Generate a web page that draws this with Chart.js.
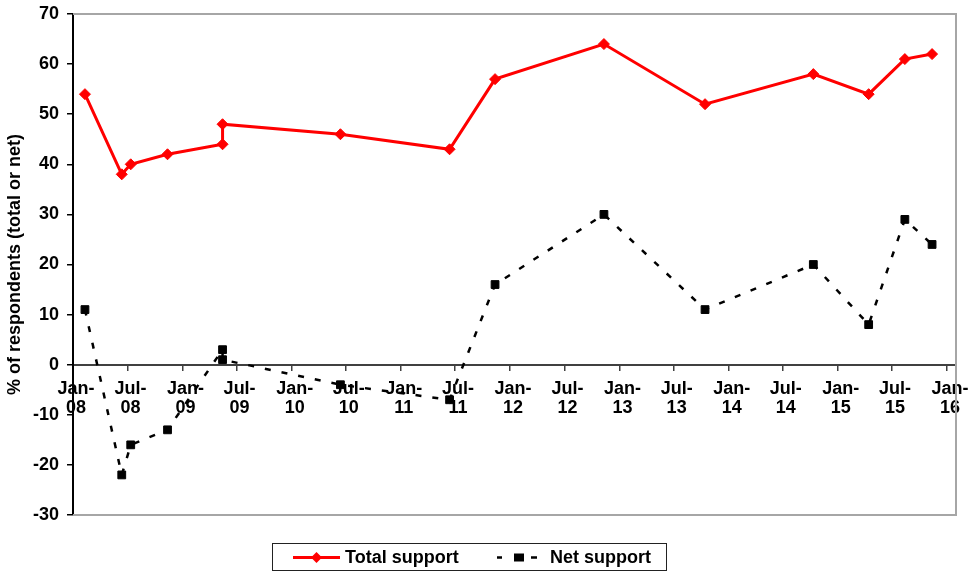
<!DOCTYPE html>
<html>
<head>
<meta charset="utf-8">
<script src="https://cdn.jsdelivr.net/npm/chart.js@4"></script>
<style>
  html, body { margin: 0; padding: 0; background: #ffffff; }
  #wrap { width: 977px; height: 572px; position: relative; }
</style>
</head>
<body>
<div id="wrap"><canvas id="chart" width="977" height="572"></canvas></div>
<script>
// Survey dates and results (percent of respondents)
const surveyDates = ['2008-02-10', '2008-06-12', '2008-07-12', '2008-11-12', '2009-05-15', '2009-05-15',
  '2010-06-13', '2011-06-13', '2011-11-12', '2012-11-10', '2013-10-14', '2014-10-11',
  '2015-04-14', '2015-08-13', '2015-11-12'];
const totalSupport = [54, 38, 40, 42, 44, 48, 46, 43, 57, 64, 52, 58, 54, 61, 62];
const netSupport = [11, -22, -16, -13, 3, 1, -4, -7, 16, 30, 11, 20, 8, 29, 24];
const seriesNames = ['Total support', 'Net support'];
const xTickLabels = ['Jan-08', 'Jul-08', 'Jan-09', 'Jul-09', 'Jan-10', 'Jul-10', 'Jan-11', 'Jul-11',
  'Jan-12', 'Jul-12', 'Jan-13', 'Jul-13', 'Jan-14', 'Jul-14', 'Jan-15', 'Jul-15', 'Jan-16'];
const yAxisTitle = '% of respondents (total or net)';

const FONT = 'Arial, "Liberation Sans", Helvetica, sans-serif';
const FONT_SIZE = 18;
const MONTHS = ['Jan', 'Feb', 'Mar', 'Apr', 'May', 'Jun', 'Jul', 'Aug', 'Sep', 'Oct', 'Nov', 'Dec'];
const ORIGIN = Date.UTC(2008, 0, 1);
const DAY = 86400000;

// day offset from 1 Jan 2008
function dayOf(iso) {
  const p = iso.split('-').map(Number);
  return (Date.UTC(p[0], p[1] - 1, p[2]) - ORIGIN) / DAY;
}
function dayOfLabel(lbl) {
  const p = lbl.split('-');
  return (Date.UTC(2000 + Number(p[1]), MONTHS.indexOf(p[0]), 1) - ORIGIN) / DAY;
}

const tickDays = xTickLabels.map(dayOfLabel);
const labelByDay = {};
xTickLabels.forEach((l, i) => { labelByDay[tickDays[i]] = l; });

const totalPoints = surveyDates.map((d, i) => ({ x: dayOf(d), y: totalSupport[i] }));
const netPoints = surveyDates.map((d, i) => ({ x: dayOf(d), y: netSupport[i] }));

// Plot-area frame and boxed legend below the chart
const frameAndLegend = {
  id: 'frameAndLegend',
  beforeDatasetsDraw(chart) {
    const { ctx, chartArea: a } = chart;
    ctx.save();
    ctx.strokeStyle = '#a6a6a6';
    ctx.lineWidth = 2;
    ctx.beginPath();
    ctx.moveTo(a.left, a.top);
    ctx.lineTo(a.right, a.top);
    ctx.lineTo(a.right, a.bottom);
    ctx.lineTo(a.left, a.bottom);
    ctx.stroke();
    ctx.restore();
  },
  afterDraw(chart) {
    const ctx = chart.ctx;
    ctx.save();
    // legend box
    ctx.strokeStyle = '#222222';
    ctx.lineWidth = 1;
    ctx.strokeRect(272.5, 543.5, 394, 27);
    const cy = 557.5;
    // Total support sample
    ctx.strokeStyle = '#ff0000';
    ctx.lineWidth = 3;
    ctx.beginPath();
    ctx.moveTo(293, cy);
    ctx.lineTo(340, cy);
    ctx.stroke();
    ctx.fillStyle = '#ff0000';
    ctx.beginPath();
    ctx.moveTo(316.5, cy - 5.5);
    ctx.lineTo(322, cy);
    ctx.lineTo(316.5, cy + 5.5);
    ctx.lineTo(311, cy);
    ctx.closePath();
    ctx.fill();
    // Net support sample
    ctx.strokeStyle = '#000000';
    ctx.lineWidth = 2.5;
    ctx.beginPath();
    ctx.moveTo(497, cy); ctx.lineTo(502, cy);
    ctx.moveTo(531, cy); ctx.lineTo(537, cy);
    ctx.stroke();
    ctx.fillStyle = '#000000';
    ctx.fillRect(514, cy - 4, 10, 8);
    // labels
    ctx.font = 'bold ' + FONT_SIZE + 'px ' + FONT;
    ctx.textBaseline = 'middle';
    ctx.textAlign = 'left';
    ctx.fillText(seriesNames[0], 345, cy + 1);
    ctx.fillText(seriesNames[1], 550, cy + 1);
    ctx.restore();
  }
};

new Chart(document.getElementById('chart'), {
  type: 'scatter',
  data: {
    datasets: [
      {
        label: seriesNames[0],
        data: totalPoints,
        showLine: true,
        borderColor: '#ff0000',
        backgroundColor: '#ff0000',
        borderWidth: 3,
        pointStyle: 'rectRot',
        pointRadius: 5.5,
        pointBorderWidth: 1,
        pointBorderColor: '#ff0000',
        pointBackgroundColor: '#ff0000',
        tension: 0,
        clip: false
      },
      {
        label: seriesNames[1],
        data: netPoints,
        showLine: true,
        borderColor: '#000000',
        backgroundColor: '#000000',
        borderWidth: 2.5,
        borderDash: [6, 11],
        pointStyle: 'rect',
        pointRadius: 5.5,
        pointBorderWidth: 1,
        pointBorderColor: '#000000',
        pointBackgroundColor: '#000000',
        tension: 0,
        clip: false
      }
    ]
  },
  options: {
    responsive: false,
    animation: false,
    layout: { padding: { left: 0, top: 14, right: 21, bottom: 57 } },
    plugins: {
      legend: { display: false },
      tooltip: { enabled: false }
    },
    scales: {
      x: {
        type: 'linear',
        position: { y: 0 },
        min: 0,
        max: 2952,
        afterBuildTicks(scale) {
          scale.ticks = tickDays.map(v => ({ value: v }));
        },
        grid: {
          drawOnChartArea: false,
          drawTicks: true,
          tickLength: 5,
          color: '#404040',
          lineWidth: 1.5
        },
        border: { display: true, color: '#404040', width: 2 },
        ticks: {
          autoSkip: false,
          maxRotation: 0,
          minRotation: 0,
          padding: 9,
          labelOffset: 3,
          color: '#000000',
          font: { family: FONT, size: FONT_SIZE, weight: 'bold', lineHeight: 1.1 },
          callback(value) {
            const l = labelByDay[value];
            return l ? [l.split('-')[0] + '-', l.split('-')[1]] : '';
          }
        }
      },
      y: {
        type: 'linear',
        position: 'left',
        min: -30,
        max: 70,
        afterFit(scale) {
          scale.width = 73;
          scale.paddingTop = 0;
          scale.paddingBottom = 0;
        },
        grid: {
          drawOnChartArea: false,
          drawTicks: true,
          tickLength: 6,
          color: '#000000',
          lineWidth: 1.5
        },
        border: { display: true, color: '#000000', width: 2 },
        ticks: {
          stepSize: 10,
          padding: 8,
          color: '#000000',
          font: { family: FONT, size: FONT_SIZE, weight: 'bold' }
        },
        title: {
          display: true,
          text: yAxisTitle,
          color: '#000000',
          padding: { top: 4, bottom: 0 },
          font: { family: FONT, size: FONT_SIZE, weight: 'bold' }
        }
      }
    }
  },
  plugins: [frameAndLegend]
});
</script>
</body>
</html>
